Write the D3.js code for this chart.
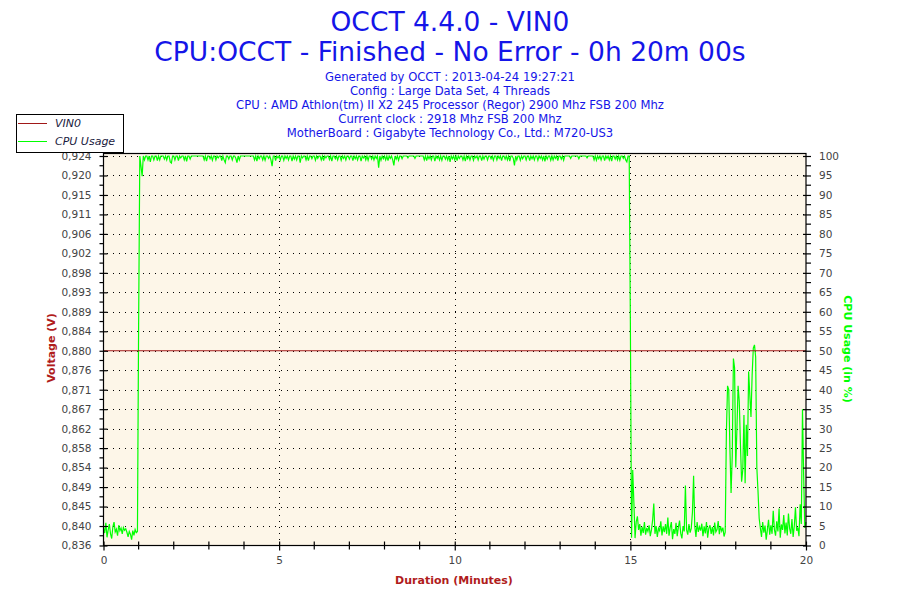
<!DOCTYPE html>
<html>
<head>
<meta charset="utf-8">
<script src="https://cdn.jsdelivr.net/npm/d3@7/dist/d3.min.js"></script>
<style>
  html, body { margin: 0; padding: 0; background: #ffffff; }
  svg { display: block; }
  text { font-family: "DejaVu Sans", Verdana, sans-serif; }
</style>
</head>
<body>
<svg id="chart" width="900" height="600"></svg>
<script>
// ---------------- DATA ----------------
const titleLines = ["OCCT 4.4.0 - VIN0", "CPU:OCCT - Finished - No Error - 0h 20m 00s"];
const infoLines = [
  "Generated by OCCT : 2013-04-24 19:27:21",
  "Config : Large Data Set, 4 Threads",
  "CPU : AMD Athlon(tm) II X2 245 Processor (Regor) 2900 Mhz FSB 200 Mhz",
  "Current clock : 2918 Mhz FSB 200 Mhz",
  "MotherBoard : Gigabyte Technology Co., Ltd.: M720-US3"
];
const seriesNames = ["VIN0", "CPU Usage"];

const xTicks = [0, 5, 10, 15, 20];
const xMinorTicks = [1, 2, 3, 4, 6, 7, 8, 9, 11, 12, 13, 14, 16, 17, 18, 19];
const voltTicks = [0.836, 0.8404, 0.8448, 0.8492, 0.8536, 0.858, 0.8624, 0.8668, 0.8712, 0.8756, 0.880,
                   0.8844, 0.8888, 0.8932, 0.8976, 0.902, 0.9064, 0.9108, 0.9152, 0.9196, 0.924];
const cpuTicks = [0, 5, 10, 15, 20, 25, 30, 35, 40, 45, 50, 55, 60, 65, 70, 75, 80, 85, 90, 95, 100];

// Voltage (VIN0) samples, minutes / volts
const voltTimes  = [0, 5, 10, 15, 20];
const voltValues = [0.880, 0.880, 0.880, 0.880, 0.880];

// CPU usage (%), one sample every 2 seconds, one row per minute
const sampleSeconds = 2;
const cpuMin00 = [4.5, 3.2, 5.8, 2.1, 4.0, 5.5, 3.0, 1.8, 4.8, 6.0, 3.5, 4.2, 2.5, 5.2, 3.8, 4.5, 3.0, 4.6, 3.9, 4.3, 3.4, 2.2, 3.6, 2.9, 1.5, 3.8, 2.6, 4.1, 3.3, 3.6];
const cpuMin01 = [57, 100, 97.4, 94.8, 100, 99, 100, 100, 99, 100, 98.5, 100, 100, 99, 100, 100, 98.8, 100, 99, 100, 100, 100, 99.2, 100, 99, 100, 100, 98.5, 98.2, 100];
const cpuMin02 = [100, 99, 100, 100, 98.8, 100, 99.5, 100, 100, 99, 100, 98.6, 100, 100, 99.2, 100, 100, 100, 100, 100, 100, 100, 100, 100, 100, 100, 99, 100, 98.7, 100];
const cpuMin03 = [100, 99.3, 100, 98.9, 100, 100, 99, 100, 99.5, 100, 100, 98.8, 100, 99, 98.3, 100, 100, 99.2, 100, 100, 99, 100, 100, 99.4, 98.3, 100, 99, 100, 100, 100];
const cpuMin04 = [100, 100, 100, 100, 100, 100, 100, 100, 100, 99, 100, 98.7, 100, 99.3, 100, 100, 99, 100, 98.9, 100, 100, 99.4, 100, 99, 97.4, 100, 100, 98.8, 100, 99.5];
const cpuMin05 = [100, 99, 100, 100, 98.9, 100, 99.4, 100, 99, 100, 100, 98.7, 100, 99.2, 100, 99, 100, 100, 98.3, 100, 99.5, 100, 100, 99, 100, 98.8, 100, 100, 99.3, 100];
const cpuMin06 = [100, 98.9, 100, 99.4, 100, 100, 99, 100, 98.8, 100, 99.5, 100, 100, 99.1, 100, 98.7, 100, 100, 99.3, 100, 99, 100, 100, 98.9, 100, 99.4, 100, 99, 100, 100];
const cpuMin07 = [99.2, 100, 100, 98.8, 100, 99.3, 100, 99, 100, 100, 98.7, 100, 99.5, 100, 99, 100, 98.9, 100, 100, 99.2, 100, 99, 100, 99.4, 100, 97, 100, 98.9, 100, 99.3];
const cpuMin08 = [100, 99, 100, 98.8, 100, 99.4, 100, 99, 97.6, 100, 99.2, 100, 98.9, 100, 100, 99.3, 100, 100, 100, 100, 99.5, 100, 100, 100, 100, 100, 99.4, 100, 100, 100];
const cpuMin09 = [100, 100, 100, 100, 99, 100, 98.8, 100, 99.3, 100, 99, 100, 100, 98.7, 100, 99.4, 100, 99, 100, 98.9, 100, 100, 99.2, 100, 99, 100, 98.5, 100, 99.3, 100];
const cpuMin10 = [99, 100, 98.8, 100, 99.4, 100, 100, 99, 100, 98.7, 100, 99.3, 100, 99, 100, 100, 98.9, 100, 99.5, 100, 99, 100, 100, 98.8, 100, 99.2, 100, 100, 99, 100];
const cpuMin11 = [100, 99.3, 100, 98.9, 100, 100, 99, 100, 99.4, 100, 98.8, 100, 100, 99.2, 100, 99, 100, 98.7, 100, 100, 99.4, 97.6, 100, 99, 100, 100, 98.9, 100, 99.3, 100];
const cpuMin12 = [100, 99, 100, 100, 98.8, 100, 99.3, 100, 99, 100, 100, 98.9, 100, 99.4, 100, 99, 100, 98.6, 100, 99.2, 100, 100, 98.9, 100, 99, 100, 99.4, 100, 98.8, 100];
const cpuMin13 = [100, 99.2, 100, 98.9, 100, 100, 100, 100, 100, 99.4, 100, 100, 100, 100, 100, 100, 99.3, 100, 100, 100, 100, 100, 100, 99.5, 100, 100, 100, 100, 100, 99];
const cpuMin14 = [100, 98.9, 100, 99.3, 100, 99, 100, 100, 98.8, 100, 99.4, 100, 99, 100, 98.7, 100, 100, 99.2, 100, 99, 100, 98.9, 100, 100, 99.4, 100, 99, 98.5, 100, 100];
const cpuMin15 = [57, 2.0, 19.4, 11.0, 1.9, 6.1, 7.5, 4.0, 5.5, 2.5, 4.8, 3.2, 6.0, 2.8, 4.5, 3.6, 5.2, 2.4, 4.0, 6.5, 10.8, 3.0, 5.0, 2.2, 4.4, 3.8, 6.2, 2.6, 4.9, 3.4];
const cpuMin16 = [5.5, 3.0, 7.2, 2.5, 4.6, 6.0, 1.6, 4.2, 3.0, 5.8, 2.4, 4.7, 6.4, 3.1, 1.8, 5.0, 3.6, 15.4, 4.0, 2.8, 5.5, 3.3, 4.4, 8.5, 17.9, 5.0, 2.2, 6.0, 3.5, 4.8];
const cpuMin17 = [3.8, 5.6, 2.4, 4.9, 3.1, 6.0, 2.0, 4.4, 5.2, 3.0, 4.7, 2.6, 5.9, 3.5, 4.1, 6.3, 2.9, 5.0, 3.7, 4.6, 2.3, 3.4, 29, 41, 40, 25, 13.5, 23, 48, 45.6];
const cpuMin18 = [20, 30, 41, 37, 26, 16.4, 19.4, 33.5, 16, 31, 23, 44.7, 38.7, 33, 43.8, 50.7, 51.5, 48.4, 20, 14, 7, 4.5, 2.2, 6.0, 3.3, 5.1, 1.5, 4.0, 6.6, 2.8];
const cpuMin19 = [5.2, 3.0, 8.9, 4.1, 2.5, 6.2, 3.6, 9.5, 2.0, 5.4, 4.0, 7.8, 3.1, 5.9, 2.6, 8.2, 4.4, 3.0, 6.8, 2.2, 5.0, 9.8, 3.8, 4.6, 2.4, 10.6, 5.5, 35, 18, 4.5];
const cpuMin20 = [6];

const cpuValues = [].concat(cpuMin00, cpuMin01, cpuMin02, cpuMin03, cpuMin04, cpuMin05, cpuMin06,
  cpuMin07, cpuMin08, cpuMin09, cpuMin10, cpuMin11, cpuMin12, cpuMin13, cpuMin14, cpuMin15,
  cpuMin16, cpuMin17, cpuMin18, cpuMin19, cpuMin20);

// ---------------- DRAW ----------------
const svg = d3.select("#chart");
const colVolt = "#a01818";
const colCpu = "#00ff00";
const colTitle = "#1515e8";
const colTick = "#444444";

const L = 103.5, R = 806, T = 153.5, B = 545.5, Y100 = 156;

const x = d3.scaleLinear().domain([0, 20]).range([L, R]);
const yV = d3.scaleLinear().domain([0.836, 0.924]).range([B, Y100]);
const yC = d3.scaleLinear().domain([0, 100]).range([B, Y100]);

// Titles
svg.append("g").selectAll("text").data(titleLines).join("text")
  .attr("x", 450).attr("y", (d, i) => i === 0 ? 31 : 61)
  .attr("text-anchor", "middle").attr("fill", colTitle)
  .style("font-size", "26.5px").text(d => d);

svg.append("g").selectAll("text").data(infoLines).join("text")
  .attr("x", 450).attr("y", (d, i) => 81 + i * 14)
  .attr("text-anchor", "middle").attr("fill", colTitle)
  .style("font-size", "11.6px").text(d => d);

// Plot background
svg.append("rect").attr("x", L).attr("y", T).attr("width", R - L).attr("height", B - T)
  .attr("fill", "#fdf6e8");

// Grid
const grid = svg.append("g").attr("stroke", "#000").attr("stroke-width", 1)
  .attr("stroke-dasharray", "1,5").attr("shape-rendering", "crispEdges");
grid.selectAll("line.h").data(cpuTicks.filter(d => d > 0)).join("line").attr("class", "h")
  .attr("x1", L + 3).attr("x2", R).attr("y1", d => Math.round(yC(d)) + 0.5).attr("y2", d => Math.round(yC(d)) + 0.5);
grid.selectAll("line.v").data(xTicks.filter(d => d > 0 && d < 20)).join("line").attr("class", "v")
  .attr("y1", T + 1).attr("y2", B).attr("x1", d => Math.round(x(d)) + 0.5).attr("x2", d => Math.round(x(d)) + 0.5);

// Series
const cpuLine = d3.line().x((d, i) => x(i * sampleSeconds / 60)).y(d => yC(d));
svg.append("path").datum(cpuValues).attr("d", cpuLine)
  .attr("fill", "none").attr("stroke", colCpu).attr("stroke-width", 1.2).attr("stroke-linejoin", "miter");

const voltLine = d3.line().x((d, i) => x(voltTimes[i])).y(d => yV(d));
svg.append("path").datum(voltValues).attr("d", voltLine)
  .attr("fill", "none").attr("stroke", colVolt).attr("stroke-width", 1.2);

// Frame
svg.append("rect").attr("x", L).attr("y", T).attr("width", R - L).attr("height", B - T)
  .attr("fill", "none").attr("stroke", "#000").attr("stroke-width", 1.2);

// Axes
const fmtV = v => d3.format(".3f")(v).replace(".", ",");
const leftAxis = d3.axisLeft(yV).tickValues(voltTicks).tickFormat(fmtV).tickSizeInner(4).tickSizeOuter(0).tickPadding(8);
const gl = svg.append("g").attr("transform", `translate(${L},0)`).call(leftAxis);
const rightAxis = d3.axisRight(yC).tickValues(cpuTicks).tickSizeInner(5).tickSizeOuter(0).tickPadding(8);
const gr = svg.append("g").attr("transform", `translate(${R},0)`).call(rightAxis);
const bottomAxis = d3.axisBottom(x).tickValues(xTicks).tickSizeInner(5).tickSizeOuter(0).tickPadding(6);
const gb = svg.append("g").attr("transform", `translate(0,${B})`).call(bottomAxis);

[gl, gr, gb].forEach(g => {
  g.select(".domain").remove();
  g.selectAll(".tick line").attr("stroke", "#000").attr("stroke-width", 1.2);
  g.selectAll(".tick text").attr("fill", colTick).style("font-size", "10.5px")
    .style("font-family", "'DejaVu Sans', Verdana, sans-serif");
});
// ticks crossing the axis lines
gl.selectAll(".tick line").attr("x1", 4);
gr.selectAll(".tick line").attr("x1", -3);
gb.selectAll(".tick line").attr("y1", -4);

// minor ticks
const minorV = d3.pairs(voltTicks).map(p => (p[0] + p[1]) / 2);
svg.append("g").selectAll("line").data(minorV).join("line")
  .attr("x1", L - 4).attr("x2", L).attr("y1", d => yV(d)).attr("y2", d => yV(d))
  .attr("stroke", "#000").attr("stroke-width", 1.2);
const minorC = d3.pairs(cpuTicks).map(p => (p[0] + p[1]) / 2);
svg.append("g").selectAll("line").data(minorC).join("line")
  .attr("x1", R).attr("x2", R + 5).attr("y1", d => yC(d)).attr("y2", d => yC(d))
  .attr("stroke", "#000").attr("stroke-width", 1.2);
svg.append("g").selectAll("line").data(xMinorTicks).join("line")
  .attr("x1", d => x(d)).attr("x2", d => x(d)).attr("y1", B - 4).attr("y2", B + 4)
  .attr("stroke", "#000").attr("stroke-width", 1.2);

// Axis titles
svg.append("text").attr("transform", `translate(55,348) rotate(-90)`)
  .attr("text-anchor", "middle").attr("fill", "#b01c1c").style("font-weight", "bold").style("font-size", "11px")
  .text("Voltage (V)");
svg.append("text").attr("transform", `translate(844,349) rotate(90)`)
  .attr("text-anchor", "middle").attr("fill", colCpu).style("font-weight", "bold").style("font-size", "11px")
  .text("CPU Usage (in %)");
svg.append("text").attr("x", 454).attr("y", 584)
  .attr("text-anchor", "middle").attr("fill", "#b01c1c").style("font-weight", "bold").style("font-size", "11px")
  .text("Duration (Minutes)");

// Legend
const lg = svg.append("g");
lg.append("rect").attr("x", 16.5).attr("y", 114.5).attr("width", 107).attr("height", 38)
  .attr("fill", "#fff").attr("stroke", "#000").attr("stroke-width", 1);
const legendColors = [colVolt, colCpu];
lg.selectAll("line").data(seriesNames).join("line")
  .attr("x1", 18).attr("x2", 47).attr("y1", (d, i) => 123.5 + i * 18).attr("y2", (d, i) => 123.5 + i * 18)
  .attr("stroke", (d, i) => legendColors[i]).attr("stroke-width", 1);
lg.selectAll("text").data(seriesNames).join("text")
  .attr("x", 55).attr("y", (d, i) => 127 + i * 18)
  .attr("fill", "#1a1a40").style("font-style", "italic").style("font-size", "11px").text(d => d);
</script>
</body>
</html>
